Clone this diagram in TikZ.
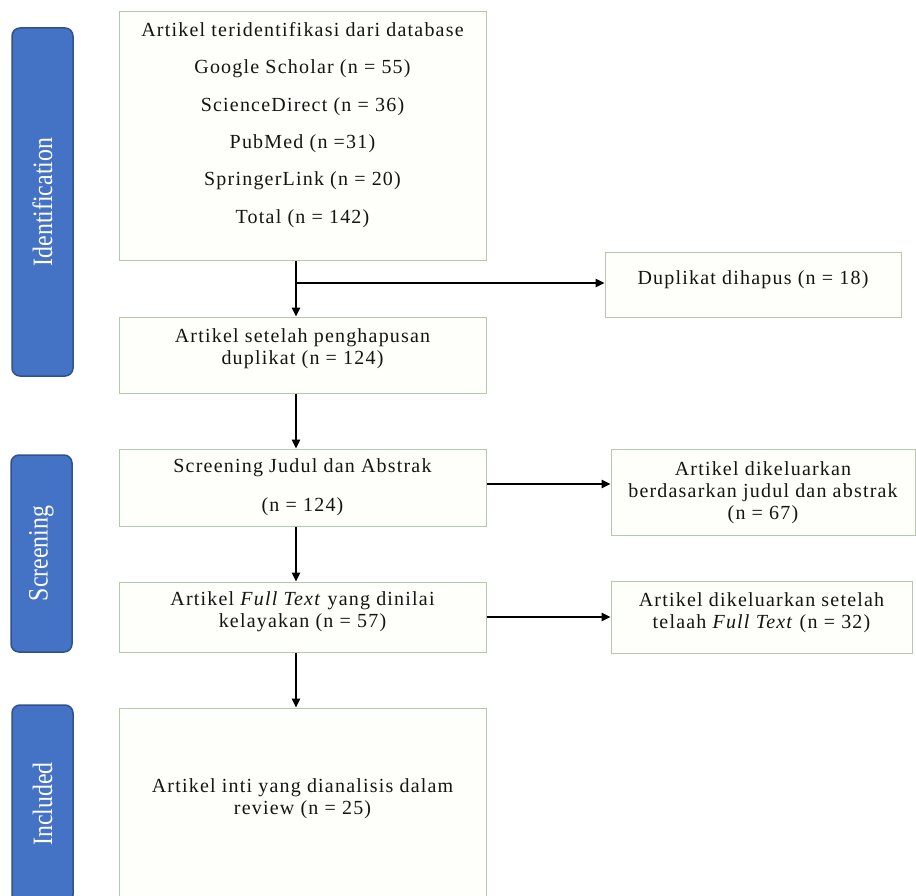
\documentclass[tikz,border=0pt]{standalone}
\usepackage{fontspec}
\usepackage{graphicx}
\setmainfont{Liberation Serif}[LetterSpace=6]
\newfontfamily\plainserif{Liberation Serif}
\usetikzlibrary{arrows.meta}
\definecolor{boxline}{HTML}{B5C7AC}
\definecolor{boxfill}{HTML}{FEFEFA}
\definecolor{phasefill}{HTML}{4472C4}
\definecolor{phaseline}{HTML}{2F528F}
\definecolor{txt}{HTML}{141414}
\begin{document}
\begin{tikzpicture}[x=1pt,y=-1pt,
 box/.style={draw=boxline, fill=boxfill, line width=1pt, inner sep=0pt},
 lbl/.style={text=txt, align=center, font=\fontsize{20}{22}\selectfont, inner sep=0pt},
 phase/.style={draw=phaseline, fill=phasefill, line width=1.5pt, rounded corners=8pt, inner sep=0pt},
 phaselbl/.style={text=white, rotate=90, font=\plainserif\fontsize{28}{30}\selectfont, inner sep=0pt},
 arr/.style={-{Triangle[length=9pt,width=8.5pt]}, line width=1.3pt, draw=black}
]
\useasboundingbox (0,0) rectangle (916,896);
\clip (0,0) rectangle (916,896);
\fill[white] (0,0) rectangle (916,896);

% phase labels
\node[phase, minimum width=61pt, minimum height=348pt] (pid) at (42.5,202) {};
\node[phaselbl] (pidt) at (pid.center) {\scalebox{0.85}[1]{Identification}};
\node[phase, minimum width=61pt, minimum height=197pt] (psc) at (41.5,553.5) {};
\node[phaselbl] (psct) at (psc.center) {\scalebox{0.85}[1]{Screening}};
\node[phase, minimum width=61pt, minimum height=198pt] (pin) at (42.5,804) {};
\node[phaselbl] (pint) at (pin.center) {\scalebox{0.85}[1]{Included}};

% main column boxes
\node[box, minimum width=367pt, minimum height=249pt] (b1) at (302.5,136.5) {};
\node[lbl, font=\fontsize{20}{37.3}\selectfont] (b1t) at (302.5,125) {Artikel teridentifikasi dari database\\ Google Scholar (n = 55)\\ ScienceDirect (n = 36)\\ PubMed (n =31)\\ SpringerLink (n = 20)\\ Total (n = 142)};
\node[box, minimum width=367pt, minimum height=76pt] (b2) at (302.5,355) {};
\node[lbl] (b2t) at (302.5,349) {Artikel setelah penghapusan\\ duplikat (n = 124)};
\node[box, minimum width=367pt, minimum height=77pt] (b3) at (302.5,487.5) {};
\node[lbl] (b3t) at (302.5,487.5) {Screening Judul dan Abstrak\\[17pt] (n = 124)};
\node[box, minimum width=367pt, minimum height=70pt] (b4) at (302.5,617) {};
\node[lbl] (b4t) at (302.5,611.5) {Artikel \textit{Full Text} yang dinilai\\ kelayakan (n = 57)};
\node[box, minimum width=367pt, minimum height=200pt] (b5) at (302.5,808) {};
\node[lbl] (b5t) at (302.5,798.5) {Artikel inti yang dianalisis dalam\\ review (n = 25)};

% side boxes
\node[box, minimum width=296pt, minimum height=64pt] (d1) at (753,285) {};
\node[lbl] (d1t) at (753,280) {Duplikat dihapus (n = 18)};
\node[box, minimum width=304pt, minimum height=86pt] (d2) at (763,492) {};
\node[lbl] (d2t) at (763,492.5) {Artikel dikeluarkan\\ berdasarkan judul dan abstrak\\ (n = 67)};
\node[box, minimum width=301pt, minimum height=72pt] (d3) at (761.5,617) {};
\node[lbl] (d3t) at (761.5,612.5) {Artikel dikeluarkan setelah\\ telaah \textit{Full Text} (n = 32)};

% connectors
\coordinate (ax) at (296,0);
\coordinate (br1) at (296,283);
\coordinate (br2) at (0,484);
\draw[arr] (b1.south -| ax) -- (b2.north -| ax);
\draw[arr] (br1) -- (d1.west |- br1);
\draw[arr] (b2.south -| ax) -- (b3.north -| ax);
\draw[arr] (b3.east |- br2) -- (d2.west |- br2);
\draw[arr] (b3.south -| ax) -- (b4.north -| ax);
\draw[arr] (b4.east) -- (d3.west);
\draw[arr] (b4.south -| ax) -- (b5.north -| ax);
\end{tikzpicture}
\end{document}
